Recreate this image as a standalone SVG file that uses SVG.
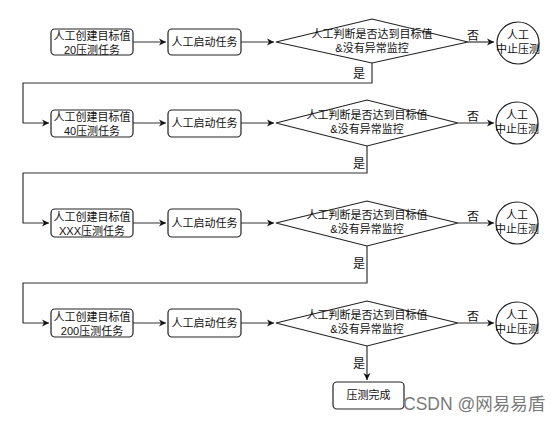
<svg xmlns="http://www.w3.org/2000/svg" width="555" height="423" viewBox="0 0 555 423">
<style>
.n{fill:#fff;stroke:#222;stroke-width:1.2}
.c{fill:none;stroke:#333;stroke-width:1.2}
text{font-family:"Liberation Sans","Noto Sans CJK SC",sans-serif;font-size:11px;fill:#111;text-anchor:middle}
.lb{font-size:12px}
.wm{font-size:17.5px;fill:#7a7a7a;text-anchor:start}
</style>
<defs>
<marker id="a" markerWidth="8" markerHeight="8" refX="7" refY="4" orient="auto" markerUnits="userSpaceOnUse">
<path d="M0,0.5 L7,4 L0,7.5 L2,4 Z" fill="#111"/>
</marker>
</defs>
<rect width="555" height="423" fill="#fff"/>
<g id="connectors">
<path class="c" d="M133,42H166" marker-end="url(#a)"/>
<path class="c" d="M241,42H274" marker-end="url(#a)"/>
<path class="c" d="M468,42H494" marker-end="url(#a)"/>
<path class="c" d="M372,63V83H23V123H49" marker-end="url(#a)"/>
<path class="c" d="M133,123H166" marker-end="url(#a)"/>
<path class="c" d="M241,123H274" marker-end="url(#a)"/>
<path class="c" d="M458,123H494" marker-end="url(#a)"/>
<path class="c" d="M367,146V173H23V223H49" marker-end="url(#a)"/>
<path class="c" d="M133,223H166" marker-end="url(#a)"/>
<path class="c" d="M241,223H274" marker-end="url(#a)"/>
<path class="c" d="M458,223H494" marker-end="url(#a)"/>
<path class="c" d="M367,246V283H23V323H49" marker-end="url(#a)"/>
<path class="c" d="M133,323H166" marker-end="url(#a)"/>
<path class="c" d="M241,323H274" marker-end="url(#a)"/>
<path class="c" d="M458,323H494" marker-end="url(#a)"/>
<path class="c" d="M367,346V380" marker-end="url(#a)"/>
<text class="lb" x="473" y="40">否</text>
<text class="lb" x="473" y="121">否</text>
<text class="lb" x="473" y="221">否</text>
<text class="lb" x="473" y="321">否</text>
<text class="lb" x="359" y="78">是</text>
<text class="lb" x="359" y="168">是</text>
<text class="lb" x="359" y="268">是</text>
<text class="lb" x="359" y="368">是</text>
</g>
<g id="create1"><rect class="n" x="51" y="29" width="82" height="26" rx="4"/><text x="92" y="39.5">人工创建目标值</text><text x="92" y="53.5">20压测任务</text></g>
<g id="start1"><rect class="n" x="168" y="29" width="73" height="26" rx="4"/><text x="204.5" y="46">人工启动任务</text></g>
<g id="judge1"><polygon class="n" points="276,42 372,19 468,42 372,63"/><text x="372" y="38">人工判断是否达到目标值</text><text x="372" y="52">&amp;没有异常监控</text></g>
<g id="stop1"><circle class="n" cx="518" cy="43" r="21"/><text x="518" y="38.5">人工</text><text x="518" y="52.5">中止压测</text></g>

<g id="create2"><rect class="n" x="51" y="110" width="82" height="27" rx="4"/><text x="92" y="120.5">人工创建目标值</text><text x="92" y="134.5">40压测任务</text></g>
<g id="start2"><rect class="n" x="168" y="110" width="73" height="27" rx="4"/><text x="204.5" y="127">人工启动任务</text></g>
<g id="judge2"><polygon class="n" points="276,123 367,100 458,123 367,146"/><text x="367" y="119">人工判断是否达到目标值</text><text x="367" y="133">&amp;没有异常监控</text></g>
<g id="stop2"><circle class="n" cx="517" cy="123" r="21"/><text x="517" y="118.5">人工</text><text x="517" y="132.5">中止压测</text></g>

<g id="create3"><rect class="n" x="51" y="209" width="82" height="28" rx="4"/><text x="92" y="220.5">人工创建目标值</text><text x="92" y="234.5">XXX压测任务</text></g>
<g id="start3"><rect class="n" x="168" y="209" width="73" height="28" rx="4"/><text x="204.5" y="227">人工启动任务</text></g>
<g id="judge3"><polygon class="n" points="276,223 367,201 458,223 367,246"/><text x="367" y="219">人工判断是否达到目标值</text><text x="367" y="233">&amp;没有异常监控</text></g>
<g id="stop3"><circle class="n" cx="517" cy="223" r="21"/><text x="517" y="218.5">人工</text><text x="517" y="232.5">中止压测</text></g>

<g id="create4"><rect class="n" x="51" y="309" width="82" height="28" rx="4"/><text x="92" y="320.5">人工创建目标值</text><text x="92" y="334.5">200压测任务</text></g>
<g id="start4"><rect class="n" x="168" y="309" width="73" height="28" rx="4"/><text x="204.5" y="327">人工启动任务</text></g>
<g id="judge4"><polygon class="n" points="276,323 367,301 458,323 367,346"/><text x="367" y="319">人工判断是否达到目标值</text><text x="367" y="333">&amp;没有异常监控</text></g>
<g id="stop4"><circle class="n" cx="517" cy="323" r="21"/><text x="517" y="318.5">人工</text><text x="517" y="332.5">中止压测</text></g>

<g id="done"><rect class="n" x="333" y="382" width="71" height="27" rx="4"/><text x="368.5" y="399">压测完成</text></g>
<text class="wm" x="403" y="410">CSDN @网易易盾</text>
</svg>
